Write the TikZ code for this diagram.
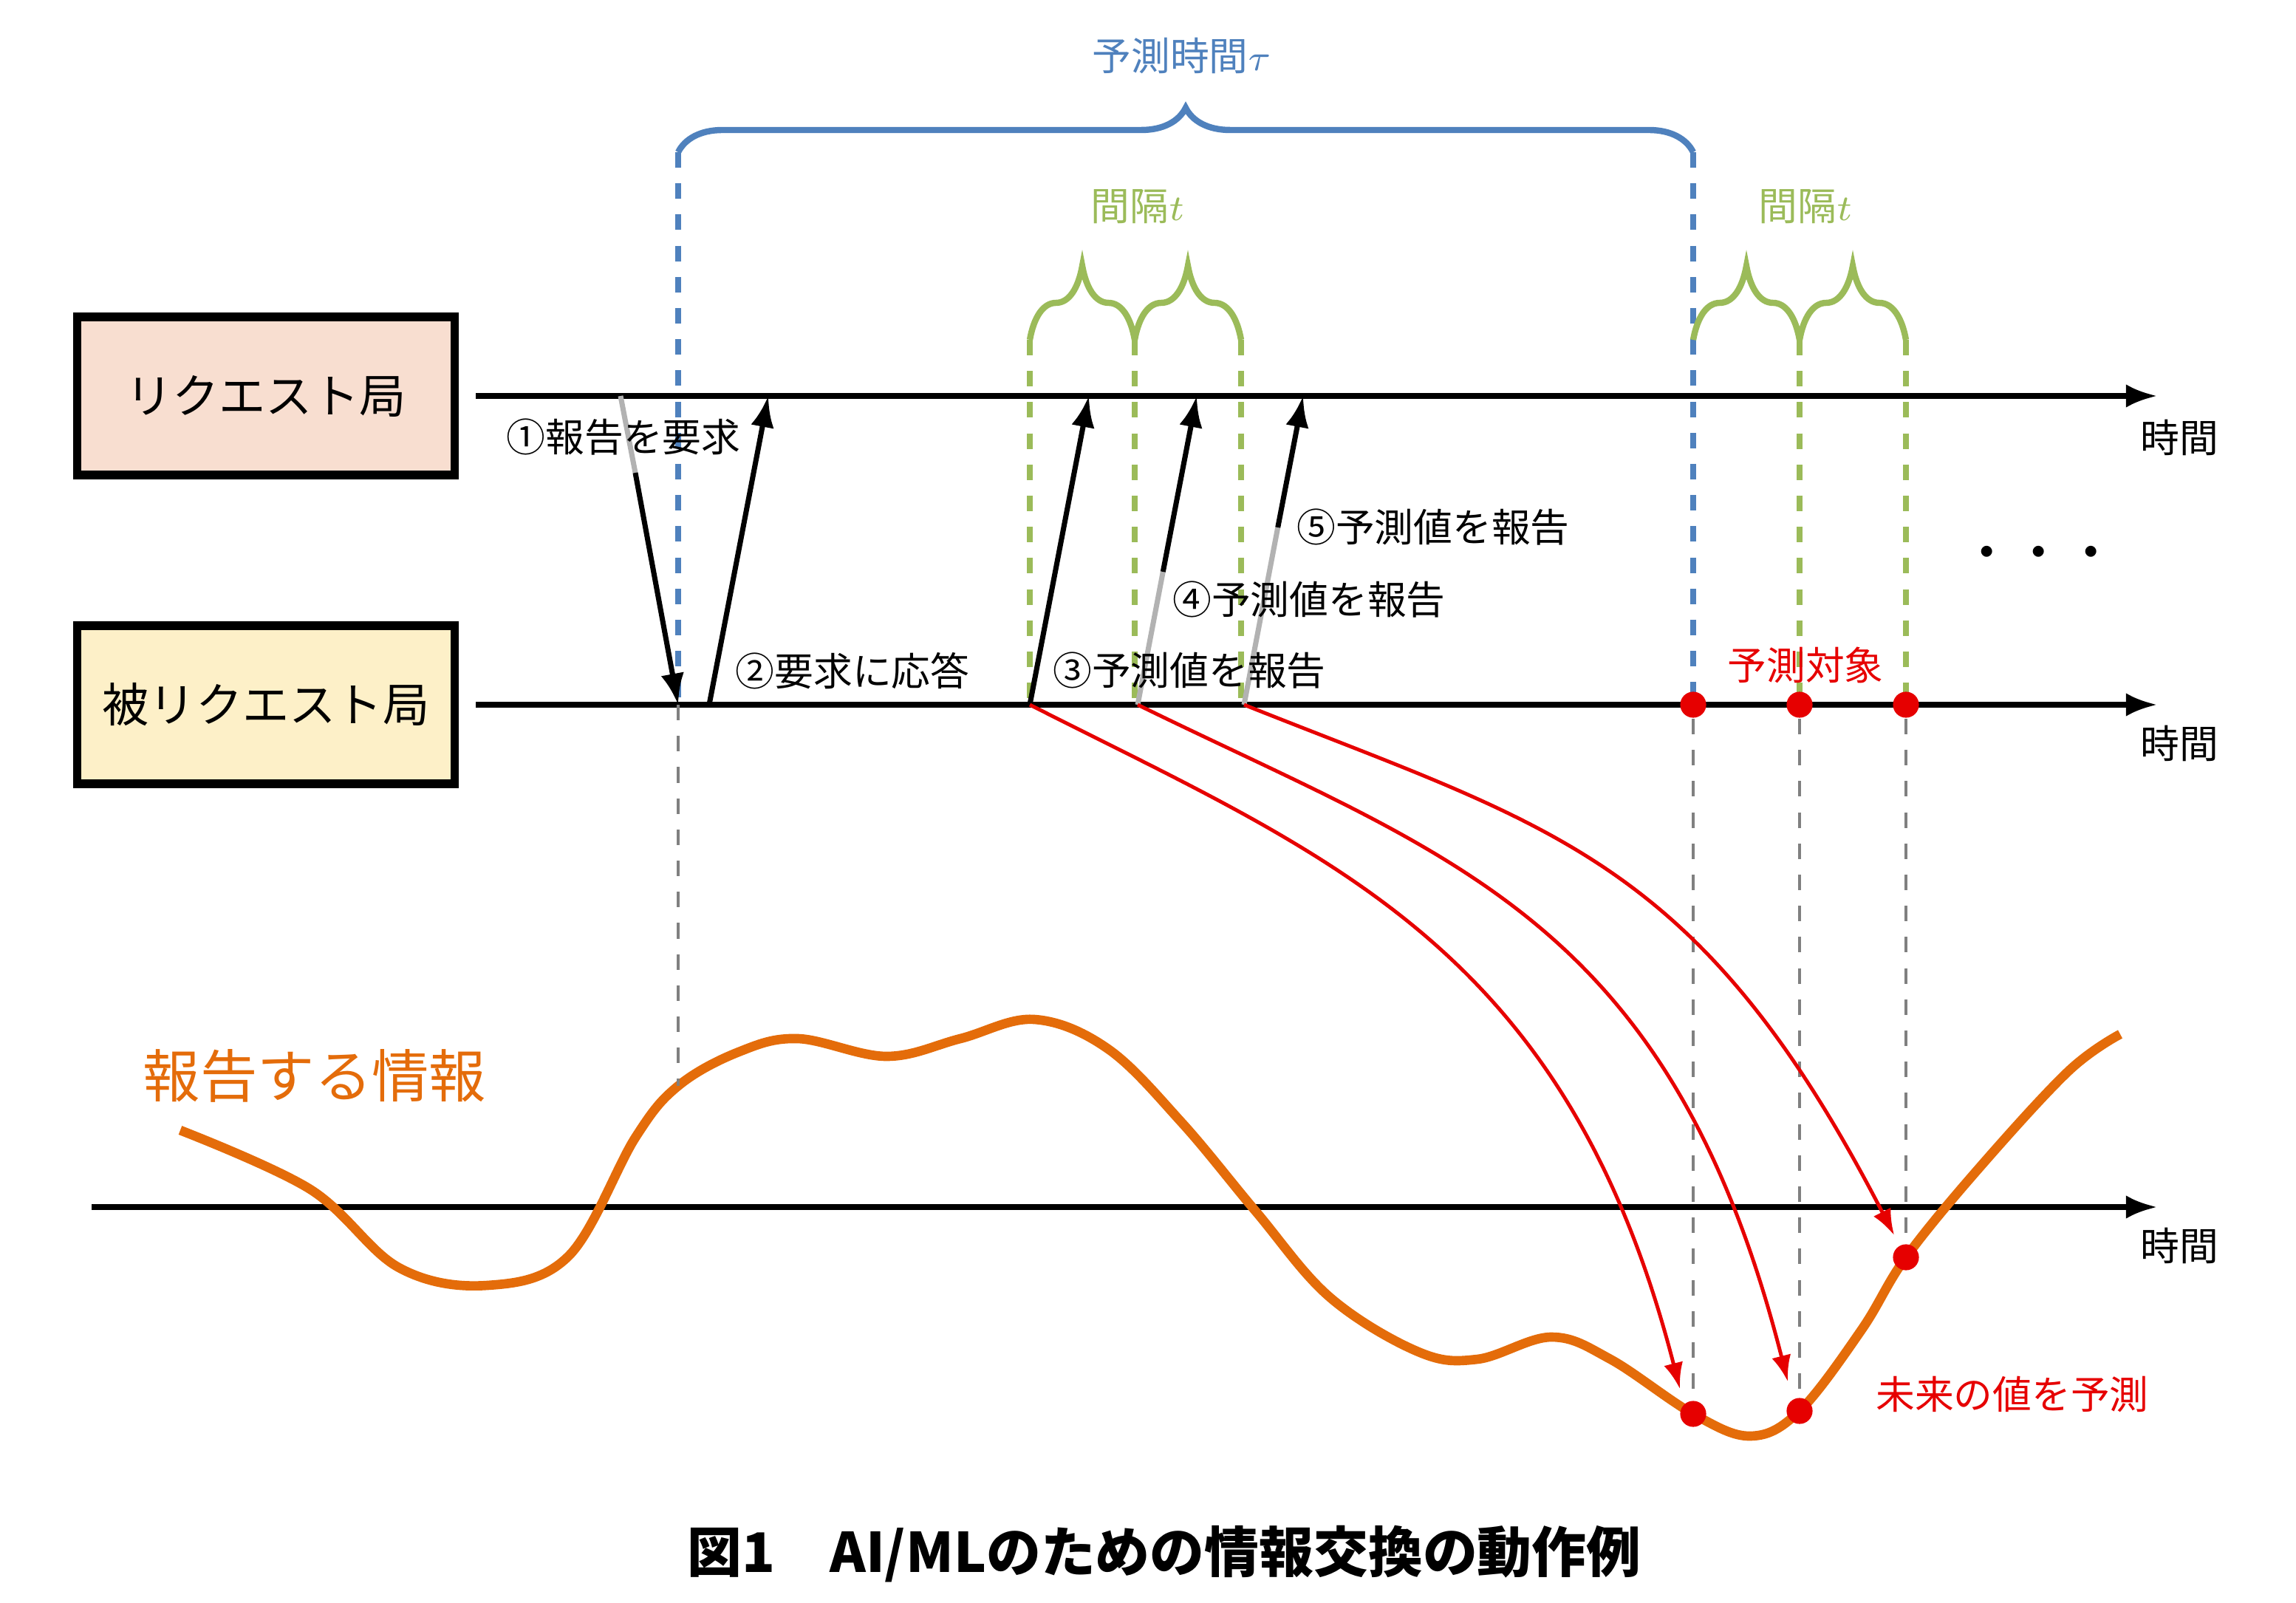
\documentclass[tikz,border=0pt]{standalone}
\usepackage{fontspec}
\setmainfont{Noto Sans CJK JP}
\usetikzlibrary{arrows.meta,decorations.pathreplacing,positioning}
\definecolor{bluebr}{RGB}{79,129,189}
\definecolor{greenbr}{RGB}{155,187,89}
\definecolor{orangec}{RGB}{228,108,10}
\definecolor{redc}{RGB}{230,0,0}
\definecolor{boxa}{RGB}{248,222,208}
\definecolor{boxb}{RGB}{253,240,200}
\tikzset{
  station/.style={draw, line width=1.6pt, minimum width=2.55cm, minimum height=1.07cm, font=\fontsize{9}{9}\selectfont},
  axis/.style={line width=1pt, -{Latex[length=6pt]}},
  lbl/.style={font=\fontsize{7.5}{8}\selectfont},
  msg/.style={line width=1pt, -{Latex[length=6pt]}},
  guide/.style={gray, dashed, line width=0.6pt},
  dot/.style={circle, fill=redc, inner sep=0pt, minimum size=5pt},
  pred/.style={redc, line width=0.7pt, -{Latex[length=5pt]}},
}
\begin{document}
\begin{tikzpicture}[x=0.01cm, y=-0.01cm]
\useasboundingbox (0,0) rectangle (1554,1085);

% stations
\node[station, fill=boxa] (req) at (180,268) {リクエスト局};
\node[station, fill=boxb] (sub) at (180,477) {被リクエスト局};

% time axes
\coordinate (a1s) at (322,268); \coordinate (a1e) at (1460,268);
\coordinate (a2s) at (322,477); \coordinate (a2e) at (1460,477);
\coordinate (a3s) at (62,817);  \coordinate (a3e) at (1460,817);
\draw[axis] (a1s) -- (a1e);
\draw[axis] (a2s) -- (a2e);
\draw[axis] (a3s) -- (a3e);
\node[lbl] (t1) at (1475,296) {時間};
\node[lbl] (t2) at (1475,503) {時間};
\node[lbl] (t3) at (1475,843) {時間};

% prediction time brace
\draw[bluebr, line width=1.2pt, decorate, decoration={brace, amplitude=0.3cm}] (459,103) -- (1146,103);
\node[lbl, text=bluebr] (ptau) at (800,38) {予測時間$\tau$};
\draw[bluebr, dashed, line width=1.2pt] (459,103) -- (459,477);
\draw[bluebr, dashed, line width=1.2pt] (1146,103) -- (1146,477);

% interval braces
\foreach \xa/\xb in {697/768, 768/840, 1146/1218, 1218/1290}
  \draw[greenbr, line width=1.2pt, decorate, decoration={brace, amplitude=0.5cm}] (\xa,230) -- (\xb,230);
\foreach \xg in {697, 768, 840, 1218, 1290}
  \draw[greenbr, dashed, line width=1.2pt] (\xg,230) -- (\xg,477);
\node[lbl, text=greenbr] (int1) at (770,140) {間隔$t$};
\node[lbl, text=greenbr] (int2) at (1222,140) {間隔$t$};

% messages
\coordinate (m1s) at (420,268); \coordinate (m1g) at (430,320); \coordinate (m1e) at (459,477);
\draw[gray!60, line width=1pt] (m1s) -- (m1g);
\draw[msg] (m1g) -- (m1e);
\draw[msg] (480,477) -- (520,268);
\foreach \xs/\gy in {697/0, 770/90, 842/120}
  {\draw[gray!60, line width=1pt] (\xs,477) -- ++(0.1905*\gy,-\gy);
   \draw[msg] (\xs+0.1905*\gy,477-\gy) -- (\xs+40,268);}
\node[lbl] (l1) at (422,296) {①報告を要求};
\node[lbl] (l2) at (577,454) {②要求に応答};
\node[lbl] (l3) at (805,454) {③予測値を報告};
\node[lbl] (l4) at (886,406) {④予測値を報告};
\node[lbl] (l5) at (970,357) {⑤予測値を報告};
\node[font=\fontsize{10}{10}\selectfont] (dots) at (1380,378) {・・・};

% prediction targets
\node[lbl, text=redc] (tgt) at (1222,450) {予測対象};
\node[dot] (p1) at (1146,477) {};
\node[dot] (p2) at (1218,477) {};
\node[dot] (p3) at (1290,477) {};

% reported information
\draw[orangec, line width=1.8pt] plot[smooth, tension=0.6] coordinates {
 (122,765) (210,805) (270,858) (330,870) (385,850) (430,770) (459,735)
 (500,712) (540,703) (600,715) (650,703) (700,690) (750,710) (800,760)
 (850,820) (900,878) (960,915) (1000,920) (1050,905) (1090,920)
 (1146,957) (1185,972) (1218,955) (1260,900) (1290,851) (1340,790)
 (1400,725) (1435,700)};
\node[font=\fontsize{11}{11}\selectfont, text=orangec] (info) at (213,728) {報告する情報};
\node[dot] (f1) at (1146,957) {};
\node[dot] (f2) at (1218,955) {};
\node[dot] (f3) at (1290,851) {};
\node[lbl, text=redc] (fut) at (1362,944) {未来の値を予測};

\draw[guide] (459,477) -- (459,735);
\draw[guide] (p1) -- (f1);
\draw[guide] (p2) -- (f2);
\draw[guide] (p3) -- (f3);

% predictions
\draw[pred] (697,477) .. controls (900,580) and (1060,640) .. (1137,940);
\draw[pred] (770,477) .. controls (980,580) and (1130,620) .. (1210,935);
\draw[pred] (842,477) .. controls (1050,560) and (1150,580) .. (1282,836);

% caption
\node[font=\fontsize{10.5}{11}\selectfont\bfseries] (cap) at (788,1052) {図1\quad AI/MLのための情報交換の動作例};
\end{tikzpicture}
\end{document}
